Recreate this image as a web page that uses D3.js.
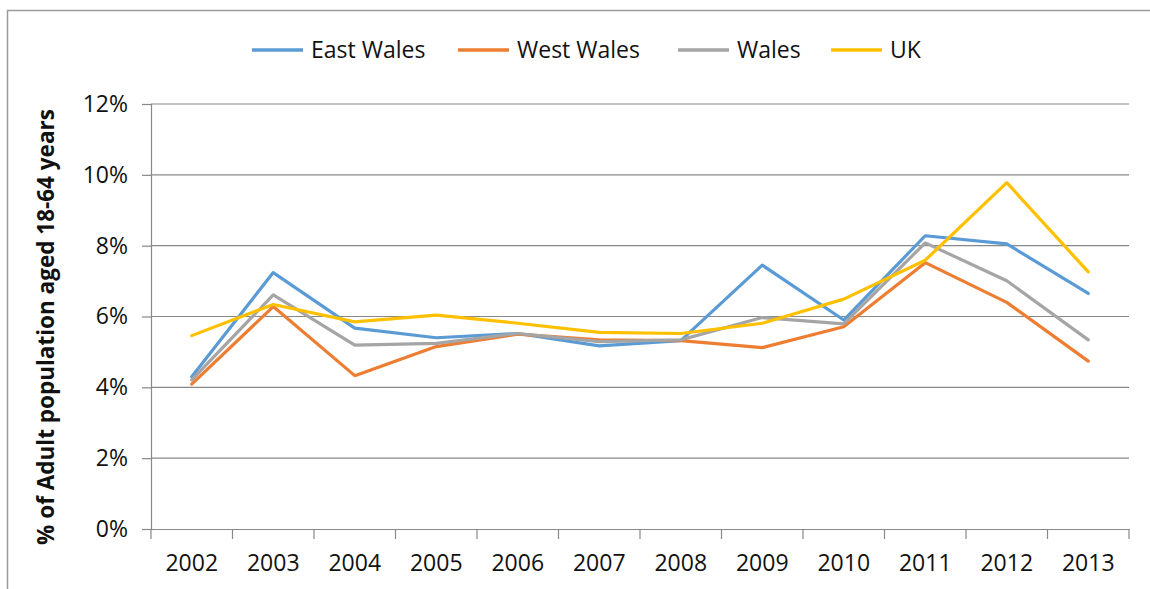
<!DOCTYPE html>
<html>
<head>
<meta charset="utf-8">
<script src="https://cdn.jsdelivr.net/npm/d3@7"></script>
<style>
  html, body { margin: 0; padding: 0; background: #fff; }
  svg { display: block; }
  text { font-family: "Open Sans", Lato, sans-serif; fill: #111; }
</style>
</head>
<body>
<svg id="chart" width="1150" height="589"></svg>
<script>
const years = ["2002","2003","2004","2005","2006","2007","2008","2009","2010","2011","2012","2013"];
const seriesNames = ["East Wales", "West Wales", "Wales", "UK"];
const eastWales = [4.30, 7.24, 5.67, 5.40, 5.52, 5.17, 5.32, 7.45, 5.90, 8.28, 8.05, 6.65];
const westWales = [4.09, 6.28, 4.33, 5.15, 5.50, 5.34, 5.32, 5.12, 5.71, 7.52, 6.40, 4.74];
const wales     = [4.21, 6.61, 5.19, 5.24, 5.52, 5.29, 5.34, 5.97, 5.79, 8.08, 7.01, 5.34];
const uk        = [5.46, 6.34, 5.85, 6.04, 5.81, 5.55, 5.52, 5.81, 6.49, 7.59, 9.78, 7.26];
const yTicks = [0, 2, 4, 6, 8, 10, 12];
const colors = ["#5B9BD5", "#ED7D31", "#A5A5A5", "#FFC000"];
const yTitle = "% of Adult population aged 18-64 years";

const seriesData = [eastWales, westWales, wales, uk];

const svg = d3.select("#chart");
const W = 1150, H = 589;
const FONT = "'Open Sans', Lato, sans-serif";

// outer frame
svg.append("path")
  .attr("d", `M7.5,${H} L7.5,10.5 L${W},10.5`)
  .attr("fill", "none").attr("stroke", "#9a9a9a").attr("stroke-width", 1.5);

const x = d3.scaleBand().domain(years).range([151, 1129]).paddingInner(0).paddingOuter(0);
const y = d3.scaleLinear().domain([0, 12]).range([529, 104]);

// y axis
const yAxis = d3.axisLeft(y).tickValues(yTicks).tickSize(9).tickFormat(d => d + "%");
const gy = svg.append("g").attr("transform", "translate(151,0)").call(yAxis);
gy.select(".domain").attr("stroke", "#888").attr("stroke-width", 1.2);
gy.selectAll(".tick line").attr("stroke", "#888").attr("stroke-width", 1.2);
gy.selectAll(".tick text").attr("x", -23).style("font-size", "23px")
  .style("font-family", FONT).attr("fill", "#111");

// gridlines
svg.append("g").selectAll("line.grid").data(yTicks.filter(d => d > 0)).join("line")
  .attr("x1", 151).attr("x2", 1129)
  .attr("y1", d => y(d)).attr("y2", d => y(d))
  .attr("stroke", "#888").attr("stroke-width", 1.2);

// x axis
const xAxis = d3.axisBottom(x).tickSize(0).tickSizeOuter(0);
const gx = svg.append("g").attr("transform", "translate(0,529)").call(xAxis);
gx.select(".domain").attr("stroke", "#888").attr("stroke-width", 1.2);
gx.selectAll(".tick text").attr("y", 26).style("font-size", "23px")
  .style("font-family", FONT).attr("fill", "#111");
// category boundary ticks
const bounds = years.map(d => x(d)).concat([x.range()[1]]);
svg.append("g").selectAll("line").data(bounds).join("line")
  .attr("x1", d => d).attr("x2", d => d).attr("y1", 529).attr("y2", 539)
  .attr("stroke", "#888").attr("stroke-width", 1.2);

// y title
svg.append("text")
  .attr("transform", "translate(54,327) rotate(-90)")
  .attr("text-anchor", "middle")
  .style("font-size", "22.5px").style("font-weight", "bold")
  .text(yTitle);

// lines
const line = d3.line()
  .x((d, i) => x(years[i]) + x.bandwidth() / 2)
  .y(d => y(d));
seriesData.forEach((s, k) => {
  svg.append("path").datum(s)
    .attr("d", line)
    .attr("fill", "none")
    .attr("stroke", colors[k])
    .attr("stroke-width", 3.2)
    .attr("stroke-linejoin", "round")
    .attr("stroke-linecap", "round");
});

// legend
const legendPos = [252, 458, 678, 831];
const lg = svg.append("g");
seriesNames.forEach((n, k) => {
  const g = lg.append("g").attr("transform", `translate(${legendPos[k]},50)`);
  g.append("line").attr("x1", 0).attr("x2", 51).attr("y1", 0).attr("y2", 0)
    .attr("stroke", colors[k]).attr("stroke-width", 3.5);
  g.append("text").attr("x", 59).attr("y", 8).style("font-size", "23px").text(n);
});
</script>
</body>
</html>
